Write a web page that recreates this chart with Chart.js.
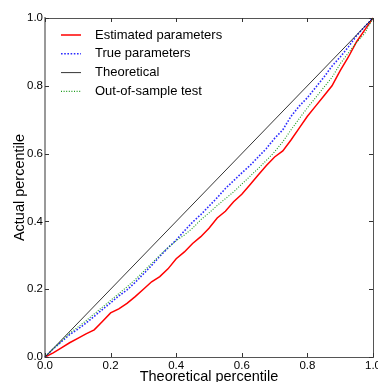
<!DOCTYPE html>
<html>
<head>
<meta charset="utf-8">
<script src="https://cdn.jsdelivr.net/npm/chart.js@4"></script>
<style>
  html, body { margin: 0; padding: 0; background: #fff; overflow: hidden; }
  canvas { display: block; }
</style>
</head>
<body>
<canvas id="qqChart" width="378" height="382"></canvas>
<script>
// theoretical percentile sample positions
var theoretical = [0, 0.025, 0.05, 0.075, 0.1, 0.125, 0.15, 0.175, 0.2, 0.225, 0.25, 0.275, 0.3, 0.325, 0.35, 0.375, 0.4, 0.425, 0.45, 0.475, 0.5,
                   0.525, 0.55, 0.575, 0.6, 0.625, 0.65, 0.675, 0.7, 0.725, 0.75, 0.775, 0.8, 0.825, 0.85, 0.875, 0.9, 0.925, 0.95, 0.975, 1];

var estimated = [0, 0.012, 0.027, 0.042, 0.055, 0.068, 0.08, 0.105, 0.13, 0.142, 0.158, 0.178, 0.2, 0.222, 0.237, 0.26, 0.29, 0.31, 0.335, 0.355, 0.38,
                 0.41, 0.43, 0.458, 0.48, 0.508, 0.537, 0.565, 0.59, 0.608, 0.64, 0.675, 0.71, 0.74, 0.77, 0.8, 0.845, 0.885, 0.93, 0.965, 1];

var trueParams = [0, 0.024, 0.045, 0.066, 0.082, 0.1, 0.12, 0.14, 0.16, 0.18, 0.198, 0.22, 0.245, 0.27, 0.297, 0.322, 0.345, 0.372, 0.398, 0.42, 0.445,
                  0.47, 0.497, 0.52, 0.543, 0.565, 0.59, 0.615, 0.645, 0.67, 0.71, 0.74, 0.765, 0.795, 0.825, 0.858, 0.885, 0.915, 0.948, 0.975, 1];

var outOfSample = [0, 0.024, 0.047, 0.07, 0.088, 0.107, 0.127, 0.147, 0.167, 0.187, 0.207, 0.228, 0.252, 0.276, 0.3, 0.322, 0.343, 0.36, 0.38, 0.405, 0.425,
                   0.447, 0.467, 0.487, 0.51, 0.533, 0.556, 0.58, 0.605, 0.635, 0.67, 0.703, 0.735, 0.765, 0.795, 0.825, 0.865, 0.897, 0.928, 0.955, 1];

var diagonal = [0, 1];
var tickValues = [0, 0.2, 0.4, 0.6, 0.8, 1.0];

var seriesNames = ["Estimated parameters", "True parameters", "Theoretical", "Out-of-sample test"];
var seriesColors = ["#ff0000", "#2a2aff", "#000000", "#1a9a1a"];
var seriesDash = [[], [1.6, 1.6], [], [1, 1.6]];
var seriesWidth = [1.5, 1.6, 0.8, 1.1];

var fontFamily = '"Liberation Sans", Arial, Helvetica, sans-serif';

function pairs(xs, ys) {
  return ys.map(function(y, i) { return { x: xs[i], y: y }; });
}

// frame on top/right, matplotlib style inner ticks, and the legend box
var framePlugin = {
  id: 'frame',
  afterDraw: function(chart) {
    var ctx = chart.ctx;
    var a = chart.chartArea;
    var xs = chart.scales.x, ys = chart.scales.y;
    ctx.save();
    ctx.strokeStyle = '#555';
    ctx.lineWidth = 1;
    ctx.beginPath();
    ctx.moveTo(a.left, a.top + 0.5);
    ctx.lineTo(a.right + 0.5, a.top + 0.5);
    ctx.lineTo(a.right + 0.5, a.bottom);
    ctx.stroke();

    ctx.strokeStyle = '#333';
    ctx.beginPath();
    tickValues.forEach(function(v) {
      var px = Math.round(xs.getPixelForValue(v)) + 0.5;
      var py = Math.round(ys.getPixelForValue(v)) + 0.5;
      ctx.moveTo(px, a.bottom); ctx.lineTo(px, a.bottom - 4);
      ctx.moveTo(px, a.top); ctx.lineTo(px, a.top + 4);
      ctx.moveTo(a.left, py); ctx.lineTo(a.left + 4, py);
      ctx.moveTo(a.right, py); ctx.lineTo(a.right - 4, py);
    });
    ctx.stroke();

    // legend
    ctx.font = '13px ' + fontFamily;
    ctx.textBaseline = 'middle';
    ctx.textAlign = 'left';
    for (var i = 0; i < seriesNames.length; i++) {
      var y = 35 + i * 18.8;
      ctx.strokeStyle = seriesColors[i];
      ctx.lineWidth = seriesWidth[i];
      ctx.setLineDash(seriesDash[i]);
      ctx.beginPath();
      ctx.moveTo(61, y);
      ctx.lineTo(81, y);
      ctx.stroke();
      ctx.setLineDash([]);
      ctx.fillStyle = '#000';
      ctx.fillText(seriesNames[i], 95, y);
    }
    ctx.restore();
  }
};

document.addEventListener("DOMContentLoaded", function() {
  var canvas = document.getElementById("qqChart");

  var allY = [estimated, trueParams, diagonal, outOfSample];
  var allX = [theoretical, theoretical, diagonal, theoretical];

  var datasets = seriesNames.map(function(name, i) {
    return {
      label: name,
      data: pairs(allX[i], allY[i]),
      borderColor: seriesColors[i],
      borderWidth: seriesWidth[i],
      borderDash: seriesDash[i],
      pointRadius: 0,
      fill: false,
      tension: 0,
      order: 4 - i
    };
  });

  new Chart(canvas, {
    type: 'scatter',
    data: { datasets: datasets },
    options: {
      responsive: false,
      animation: false,
      showLine: true,
      clip: false,
      layout: { padding: { top: 18, right: 5, left: 0, bottom: 0 } },
      plugins: {
        legend: { display: false },
        tooltip: { enabled: false }
      },
      scales: {
        x: {
          type: 'linear',
          min: 0,
          max: 1,
          afterBuildTicks: function(scale) {
            scale.ticks = tickValues.map(function(v) { return { value: v }; });
          },
          afterFit: function(scale) {
            scale.height = 25;
            scale.paddingLeft = 0;
            scale.paddingRight = 0;
          },
          grid: { drawOnChartArea: false, drawTicks: false },
          border: { color: '#555', width: 1 },
          ticks: {
            color: '#000',
            padding: 2,
            maxRotation: 0,
            autoSkip: false,
            font: { family: fontFamily, size: 11.5 },
            callback: function(v) { return Number(v).toFixed(1); }
          },
          title: {
            display: true,
            text: 'Theoretical percentile',
            color: '#000',
            font: { family: fontFamily, size: 14.5 },
            padding: { top: 0, bottom: -3.7 }
          }
        },
        y: {
          type: 'linear',
          min: 0,
          max: 1,
          afterBuildTicks: function(scale) {
            scale.ticks = tickValues.map(function(v) { return { value: v }; });
          },
          afterFit: function(scale) {
            scale.width = 45;
            scale.paddingTop = 0;
            scale.paddingBottom = 0;
          },
          grid: { drawOnChartArea: false, drawTicks: false },
          border: { color: '#999', width: 2 },
          ticks: {
            color: '#000',
            padding: 2,
            autoSkip: false,
            font: { family: fontFamily, size: 11.5 },
            callback: function(v) { return Number(v).toFixed(1); }
          },
          title: {
            display: true,
            text: 'Actual percentile',
            color: '#000',
            font: { family: fontFamily, size: 14.5 },
            padding: { top: 11, bottom: 0 }
          }
        }
      }
    },
    plugins: [framePlugin]
  });
});
</script>
</body>
</html>
